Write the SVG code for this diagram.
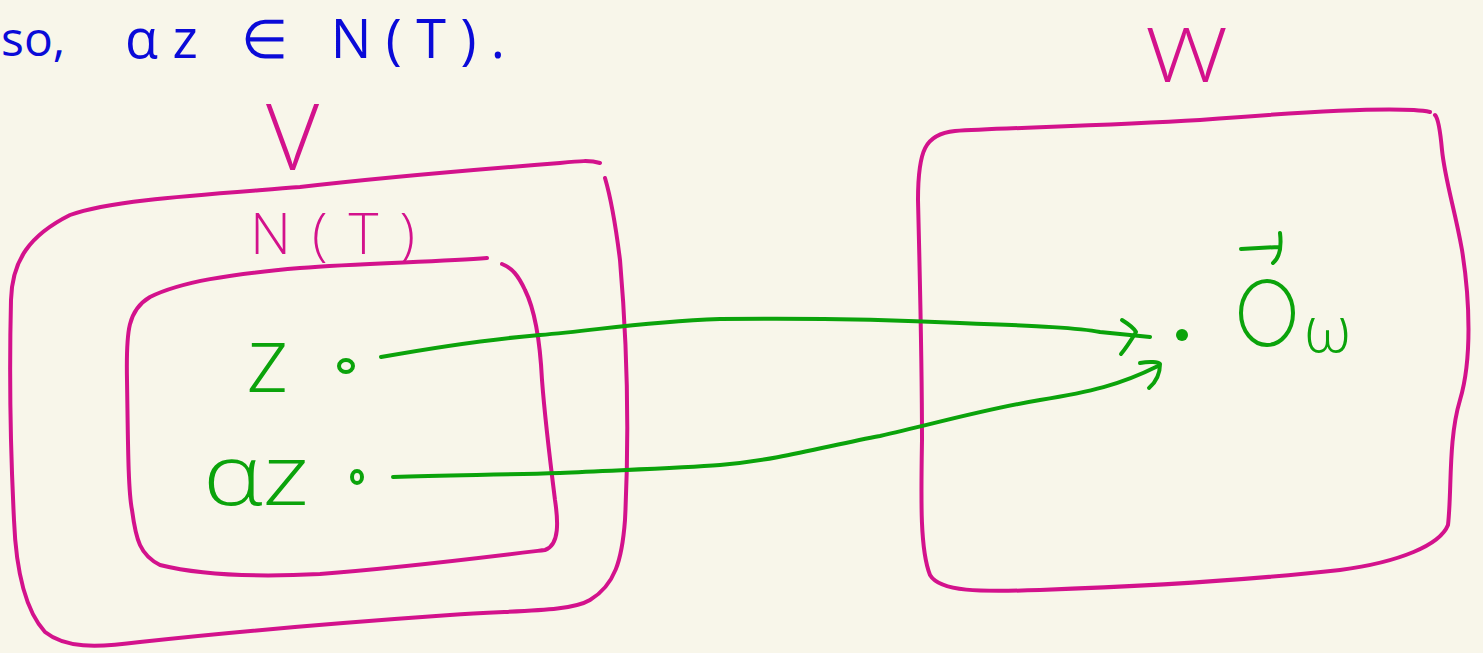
<svg xmlns="http://www.w3.org/2000/svg" width="1483" height="653" viewBox="0 0 1483 653">
<style>
.box{fill:none;stroke:#d3128c;stroke-width:4;stroke-linecap:round;stroke-linejoin:round}
.con{fill:none;stroke:#0ba30b;stroke-width:4;stroke-linecap:round;stroke-linejoin:round}
.g{fill:#0ba30b;font-family:"Open Sans","Liberation Sans",sans-serif;font-weight:300}
.m{fill:#d3128c;font-family:"Open Sans","Liberation Sans",sans-serif;font-weight:300}
.b{fill:#0a0ad8;font-family:"Open Sans","Liberation Sans",sans-serif;font-weight:400}
</style>
<rect width="1483" height="653" fill="#f8f6ea"/>
<g id="title">
<text class="b" x="1" y="56" font-size="48">so,</text>
<text class="b" x="125" y="58" font-size="54" textLength="380" lengthAdjust="spacing">αz ∈ N(T).</text>
</g>
<g id="V">
<path class="box" d="M600,163 C590,160 580,161 560,163 C470,170 360,180 300,187 C200,195 110,200 70,215 C30,235 12,260 11,300 C9,380 11,460 14,520 C16,570 25,610 45,632 C65,648 95,648 140,642 C250,630 350,622 450,615 C520,610 570,612 590,600 C615,585 622,560 625,520 C630,420 626,330 620,260 C615,220 610,195 605,178"/>
<text class="m" x="266" y="170" font-size="92">V</text>
</g>
<g id="NT">
<path class="box" d="M487,258 C440,262 360,263 300,268 C230,274 180,282 150,297 C128,310 126,330 127,380 C128,440 128,490 132,510 C136,540 140,555 160,565 C200,575 260,577 320,574 C400,568 480,558 545,550 C560,545 558,520 555,500 C550,460 545,420 542,380 C540,340 535,310 525,290 C518,275 512,268 502,264"/>
<text class="m" x="250" y="254" font-size="57" textLength="165" lengthAdjust="spacing">N(T)</text>
</g>
<g id="W">
<path class="box" d="M1430,112 C1400,106 1300,112 1200,120 C1100,126 1000,128 955,131 C925,134 918,150 918,200 C920,280 922,360 922,440 C921,500 920,550 930,575 C940,592 980,592 1040,590 C1150,586 1250,580 1340,570 C1400,562 1440,545 1448,525 C1452,490 1448,440 1460,400 C1472,360 1470,300 1462,250 C1455,210 1445,180 1442,150 C1440,128 1438,118 1435,115"/>
<text class="m" x="1145" y="82" font-size="76" textLength="83" lengthAdjust="spacingAndGlyphs">W</text>
</g>
<g id="z">
<text class="g" x="246" y="392" font-size="92">z</text>
<ellipse cx="346" cy="366" rx="7" ry="6" class="con" stroke-width="5"/>
</g>
<g id="az">
<text class="g" x="203" y="505" font-size="84" textLength="106" lengthAdjust="spacingAndGlyphs">αz</text>
<ellipse cx="357" cy="477" rx="5" ry="6" class="con" stroke-width="4"/>
</g>
<g id="Ow">
<circle cx="1182" cy="335" r="6" fill="#0ba30b"/>
<ellipse cx="1267" cy="313" rx="26" ry="32" class="con"/>
<path class="con" d="M1241,249 L1279,247 M1280,233 C1282,250 1279,258 1273,263"/>
<text class="g" x="1304" y="352" font-size="64">ω</text>
</g>
<g id="connectors">
<path class="con" d="M381,357 C420,350 480,340 540,335 C600,330 640,322 720,319 C800,318 880,319 960,323 C1040,326 1080,328 1100,332 L1150,337"/>
<path class="con" d="M1122,320 C1130,325 1135,330 1136,332 C1130,342 1126,348 1121,354"/>
<path class="con" d="M393,477 C450,475 500,475 560,473 C620,470 680,468 720,465 C780,460 830,445 880,436 C930,425 980,410 1040,400 C1090,392 1120,385 1158,366"/>
<path class="con" d="M1140,363 C1150,361 1158,362 1160,364 C1160,375 1156,382 1149,388"/>
</g>
</svg>
